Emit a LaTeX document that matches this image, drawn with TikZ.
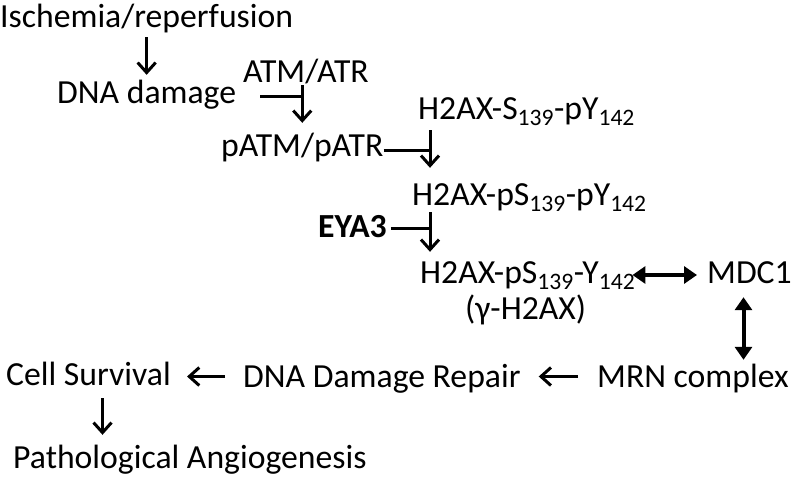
\documentclass[tikz,border=0pt]{standalone}
\usepackage{fontspec}
\setmainfont{Carlito}
\usetikzlibrary{arrows.meta}

\begin{document}
\begin{tikzpicture}[x=1pt,y=-1pt,
  lbl/.style={anchor=base west,inner sep=0pt,text height=21pt,text depth=0pt,
    font=\fontsize{33.7}{40}\selectfont},
  arr/.style={line width=3pt,-{Straight Barb[length=10pt,width=18pt]}},
  bar/.style={line width=3pt},
  dbl/.style={line width=4pt,{Triangle[length=13pt,width=17pt]}-{Triangle[length=13pt,width=17pt]}}]
  \useasboundingbox (0,0) rectangle (792,477);
  % pathway labels
  \node[lbl] (isch) at (0,27)    {Ischemia/reperfusion};
  \node[lbl] (dna)  at (57,103)  {DNA damage};
  \node[lbl] (atm)  at (243,82)  {ATM/ATR};
  \node[lbl] (patm) at (221,156) {pATM/pATR};
  \node[lbl] (h2s)  at (418,119) {H2AX-S\textsubscript{139}-pY\textsubscript{142}};
  \node[lbl] (h2ps) at (412,205) {H2AX-pS\textsubscript{139}-pY\textsubscript{142}};
  \node[lbl] (eya)  at (318,237) {\bfseries EYA3};
  \node[lbl] (h2y)  at (420,283) {H2AX-pS\textsubscript{139}-Y\textsubscript{142}};
  \node[lbl] (gam)  at (465,319) {(γ-H2AX)};
  \node[lbl] (mdc)  at (707,283) {MDC1};
  \node[lbl] (mrn)  at (597,387) {MRN complex};
  \node[lbl] (rep)  at (243,387) {DNA Damage Repair};
  \node[lbl] (cell) at (6,385)   {Cell Survival};
  \node[lbl] (path) at (13,468)  {Pathological Angiogenesis};
  % junction points
  \coordinate (d1) at ([yshift=-4pt]dna.east);
  \coordinate (p1) at ([yshift=-5pt]patm.east);
  \coordinate (k2) at ([xshift=12pt]h2s.south west);
  \coordinate (k3) at (k2 |- h2ps.south);
  \coordinate (e1) at ([yshift=-1.5pt]eya.east);
  \coordinate (m1) at ([yshift=-2.5pt]h2y.east);
  \coordinate (m2) at ([xshift=-6pt]mdc.south);
  \coordinate (c1) at ([xshift=14pt]cell.south);
  % connectors
  \draw[arr,shorten <=10pt,shorten >=7pt] (isch.south) -- (isch.south |- dna.north);
  \draw[arr,shorten <=3pt,shorten >=12pt] (patm.north |- atm.south) -- (patm.north);
  \draw[bar,shorten <=24pt] (d1) -- (d1 -| patm.north);
  \draw[arr,shorten <=11pt,shorten >=16pt] (k2) -- (k2 |- h2ps.north);
  \draw[bar] (p1) -- (p1 -| k2);
  \draw[arr,shorten <=7pt,shorten >=10pt] (k3) -- (k3 |- h2y.north);
  \draw[bar,shorten <=4pt] (e1) -- (e1 -| k3);
  \draw[dbl,shorten <=-3pt,shorten >=10pt] (m1) -- (m1 -| mdc.west);
  \draw[dbl,shorten <=14pt,shorten >=6pt] (m2) -- (m2 |- mrn.north);
  \draw[arr,shorten <=19pt,shorten >=18pt] (mrn.west) -- (mrn.west -| rep.east);
  \draw[arr,shorten <=18pt,shorten >=16pt] (rep.west) -- (rep.west -| cell.east);
  \draw[arr,shorten <=13pt,shorten >=12pt] (c1) -- (c1 |- path.north);
\end{tikzpicture}
\end{document}
